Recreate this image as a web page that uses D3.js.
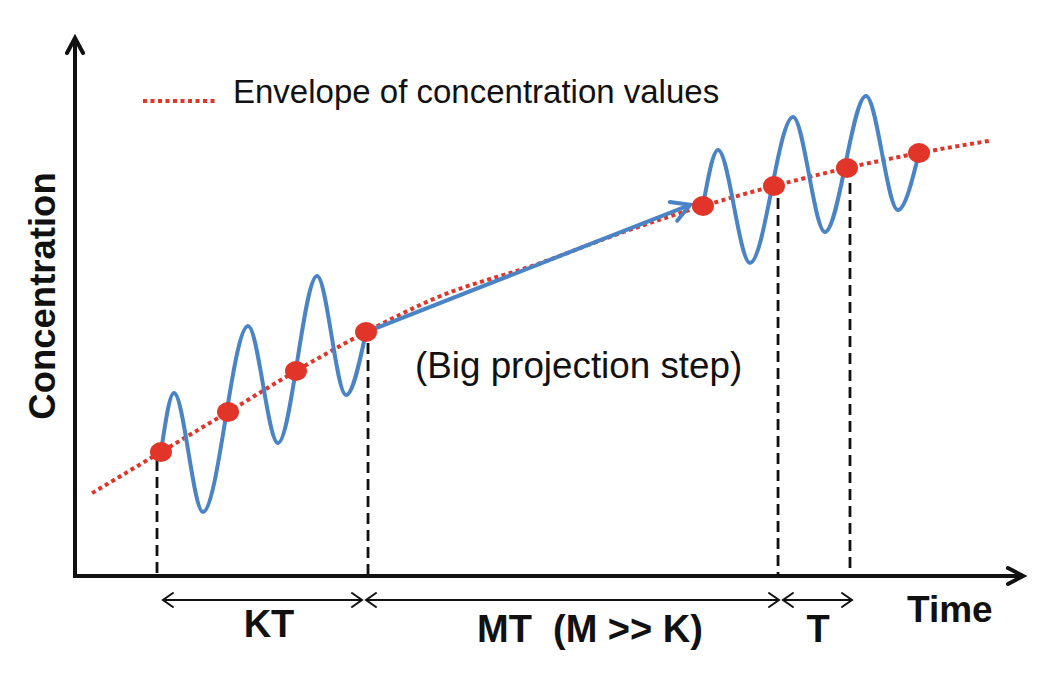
<!DOCTYPE html>
<html><head><meta charset="utf-8">
<script src="https://cdn.jsdelivr.net/npm/d3@7"></script>
<style>html,body{margin:0;padding:0;background:#fff;} svg{display:block;}</style>
</head><body>
<svg id="chart" width="1050" height="675"></svg>
<script>
// ---------- Data (time / concentration units) ----------
const envelopeTime = [1.8, 9.07, 16.14, 23.31, 30.70, 38.5, 48.5, 57.8, 66.24, 73.73, 81.43, 89.03, 96.5];
const envelopeConc = [15.4, 23.05, 30.48, 38.10, 45.35, 52.0, 57.8, 63.9, 68.77, 72.49, 75.84, 78.62, 80.9];

const sampleTime = [9.07, 16.14, 23.31, 30.70, 66.24, 73.73, 81.43, 89.03];
const sampleConc = [23.05, 30.48, 38.10, 45.35, 68.77, 72.49, 75.84, 78.62];

const wave1Time = [9.07, 10.44, 13.50, 18.25, 21.41, 25.53, 28.59, 30.70];
const wave1Conc = [23.05, 34.01, 11.90, 46.47, 24.72, 55.76, 33.64, 45.35];

const wave2Time = [66.24, 67.83, 71.20, 75.74, 79.11, 83.44, 86.81, 89.03];
const wave2Conc = [68.77, 79.18, 58.18, 85.32, 63.94, 89.22, 68.03, 78.62];

const projectionTime = [30.70, 64.9];
const projectionConc = [45.35, 69.0];

const markerTime = [8.65, 30.91, 74.16, 81.75];
const markerTopConc = [21.56, 43.31, 70.26, 73.05];

const intervalStart = [9.28, 30.70, 74.68];
const intervalEnd = [30.27, 74.26, 81.96];
const intervalConc = -4.46;
const intervalLabels = ["KT", "MT\u00a0\u00a0(M >> K)", "T"];
const intervalLabelTime = [20.46, 54.32, 78.38];
const intervalLabelConc = [-11.3, -12.2, -12.2];

const xAxisTitle = "Time";
const yAxisTitle = "Concentration";
const legendLabel = "Envelope of concentration values";
const noteLabel = "(Big projection step)";

// ---------- Scales ----------
const x = d3.scaleLinear().domain([0, 100]).range([75, 1023]);
const y = d3.scaleLinear().domain([0, 100]).range([576, 38]);

const svg = d3.select("#chart");
const FONT = "'Liberation Sans', Arial, Helvetica, sans-serif";
const BLUE = "#4a84c6";
const RED = "#e2352a";

const defs = svg.append("defs");
function chevron(id, len, half, color, width) {
  defs.append("marker")
    .attr("id", id).attr("markerUnits", "userSpaceOnUse")
    .attr("viewBox", `${-len - 4} ${-half - 4} ${len + 8} ${2 * half + 8}`)
    .attr("refX", 0).attr("refY", 0)
    .attr("markerWidth", len + 8).attr("markerHeight", 2 * half + 8)
    .attr("orient", "auto-start-reverse")
    .append("path")
    .attr("d", `M${-len},${-half} L0,0 L${-len},${half}`)
    .attr("fill", "none").attr("stroke", color)
    .attr("stroke-width", width).attr("stroke-linecap", "round").attr("stroke-linejoin", "miter");
}
chevron("axisHead", 15, 8, "#111", 4);
chevron("intHead", 10, 7, "#111", 2);
chevron("projHead", 18, 10, BLUE, 4);

const zip = (ts, cs) => ts.map((t, i) => ({t, c: cs[i]}));

// ---------- Axes ----------
svg.append("line")
  .attr("x1", x(0) - 2).attr("y1", y(0)).attr("x2", x(100)).attr("y2", y(0))
  .attr("stroke", "#111").attr("stroke-width", 4).attr("marker-end", "url(#axisHead)");
svg.append("line")
  .attr("x1", x(0)).attr("y1", y(0) + 2).attr("x2", x(0)).attr("y2", y(100))
  .attr("stroke", "#111").attr("stroke-width", 4).attr("marker-end", "url(#axisHead)");

svg.append("text")
  .attr("transform", `translate(55,296) rotate(-90)`)
  .attr("text-anchor", "middle")
  .attr("font-family", FONT).attr("font-weight", "bold").attr("font-size", 36.5)
  .attr("fill", "#111").text(yAxisTitle);

svg.append("text")
  .attr("x", x(87.76)).attr("y", y(-8.55))
  .attr("font-family", FONT).attr("font-weight", "bold").attr("font-size", 37)
  .attr("fill", "#111").text(xAxisTitle);

// ---------- Envelope ----------
const smooth = d3.line().x(d => x(d.t)).y(d => y(d.c)).curve(d3.curveMonotoneX);
svg.append("path")
  .attr("d", smooth(zip(envelopeTime, envelopeConc)))
  .attr("fill", "none").attr("stroke", RED).attr("stroke-width", 4)
  .attr("stroke-dasharray", "4,3.5");

// ---------- Oscillations ----------
[zip(wave1Time, wave1Conc), zip(wave2Time, wave2Conc)].forEach(w => {
  svg.append("path").attr("d", smooth(w))
    .attr("fill", "none").attr("stroke", BLUE).attr("stroke-width", 4)
    .attr("stroke-linecap", "round");
});

// projection step
svg.append("path")
  .attr("d", d3.line().x(d => x(d.t)).y(d => y(d.c))(zip(projectionTime, projectionConc)))
  .attr("fill", "none").attr("stroke", BLUE).attr("stroke-width", 4)
  .attr("marker-end", "url(#projHead)");

// ---------- Dashed markers ----------
svg.selectAll("line.mark").data(zip(markerTime, markerTopConc)).join("line")
  .attr("class", "mark")
  .attr("x1", d => x(d.t)).attr("x2", d => x(d.t))
  .attr("y1", d => y(d.c)).attr("y2", y(0))
  .attr("stroke", "#111").attr("stroke-width", 2.8).attr("stroke-dasharray", "11,6");

// ---------- Sample dots ----------
svg.selectAll("ellipse.dot").data(zip(sampleTime, sampleConc)).join("ellipse")
  .attr("class", "dot")
  .attr("cx", d => x(d.t)).attr("cy", d => y(d.c))
  .attr("rx", 11).attr("ry", 10).attr("fill", RED);

// ---------- Interval arrows ----------
intervalStart.forEach((s, i) => {
  svg.append("line")
    .attr("x1", x(s)).attr("x2", x(intervalEnd[i]))
    .attr("y1", y(intervalConc)).attr("y2", y(intervalConc))
    .attr("stroke", "#111").attr("stroke-width", 2)
    .attr("marker-start", "url(#intHead)").attr("marker-end", "url(#intHead)");
  svg.append("text")
    .attr("x", x(intervalLabelTime[i])).attr("y", y(intervalLabelConc[i]))
    .attr("text-anchor", "middle")
    .attr("font-family", FONT).attr("font-weight", "bold").attr("font-size", 38)
    .attr("fill", "#111").text(intervalLabels[i]);
});

// ---------- Legend & note ----------
svg.append("line")
  .attr("x1", 143).attr("x2", 216).attr("y1", 101).attr("y2", 101)
  .attr("stroke", RED).attr("stroke-width", 4).attr("stroke-dasharray", "4,3.5");
svg.append("text")
  .attr("x", 233).attr("y", 103)
  .attr("font-family", FONT).attr("font-size", 33).attr("fill", "#111")
  .text(legendLabel);

svg.append("text")
  .attr("x", 415).attr("y", 378)
  .attr("font-family", FONT).attr("font-size", 36.8).attr("fill", "#111")
  .text(noteLabel);
</script>
</body></html>
